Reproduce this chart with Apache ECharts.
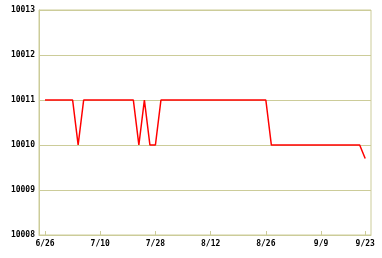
<!DOCTYPE html>
<html><head><meta charset="utf-8">
<script src="https://cdn.jsdelivr.net/npm/echarts@6/dist/echarts.min.js"></script>
<style>html,body{margin:0;padding:0;background:#fff}#c{width:382px;height:258px}</style>
</head><body><div id="c"></div>
<script>
// values by trading-day index 0..58
var values = [
  10011,10011,10011,10011,10011,10011,10010,10011,10011,10011,
  10011,10011,10011,10011,10011,10011,10011,10010,10011,10010,
  10010,10011,10011,10011,10011,10011,10011,10011,10011,10011,
  10011,10011,10011,10011,10011,10011,10011,10011,10011,10011,
  10011,10010,10010,10010,10010,10010,10010,10010,10010,10010,
  10010,10010,10010,10010,10010,10010,10010,10010,10009.7
];
var tickLabels = ['6/26','7/10','7/28','8/12','8/26','9/9','9/23'];
var tickIndex = [0,10,20,30,40,50,58];

var data = values.map(function(v,i){return [i,v];});
var grid = '#cccc99';
var chart = echarts.init(document.getElementById('c'));
chart.setOption({
  animation:false,
  grid:{left:39,top:10,width:332,height:225,show:true,borderColor:grid,borderWidth:1,backgroundColor:'transparent'},
  xAxis:{
    type:'value', min:-1.09, max:59.05,
    axisLine:{show:true,onZero:false,lineStyle:{color:grid}},
    splitLine:{show:false},
    axisTick:{show:true,inside:true,length:4,customValues:tickIndex,lineStyle:{color:grid}},
    axisLabel:{customValues:tickIndex,margin:5,color:'#000',fontFamily:'DejaVu Sans Mono',fontWeight:'bold',fontSize:8,
      formatter:function(v){var k=tickIndex.indexOf(Math.round(v));return k>=0?tickLabels[k]:'';}}
  },
  yAxis:{
    type:'value', min:10008, max:10013, interval:1,
    axisLine:{show:true,onZero:false,lineStyle:{color:grid}},
    axisTick:{show:false},
    splitLine:{show:true,lineStyle:{color:grid,width:1}},
    axisLabel:{margin:4,color:'#000',fontFamily:'DejaVu Sans Mono',fontWeight:'bold',fontSize:8,
      formatter:function(v){return String(v);}}
  },
  series:[{type:'line',data:data,showSymbol:false,symbol:'none',lineStyle:{color:'#ff0000',width:1.5},itemStyle:{color:'#ff0000'}}]
});
</script></body></html>
